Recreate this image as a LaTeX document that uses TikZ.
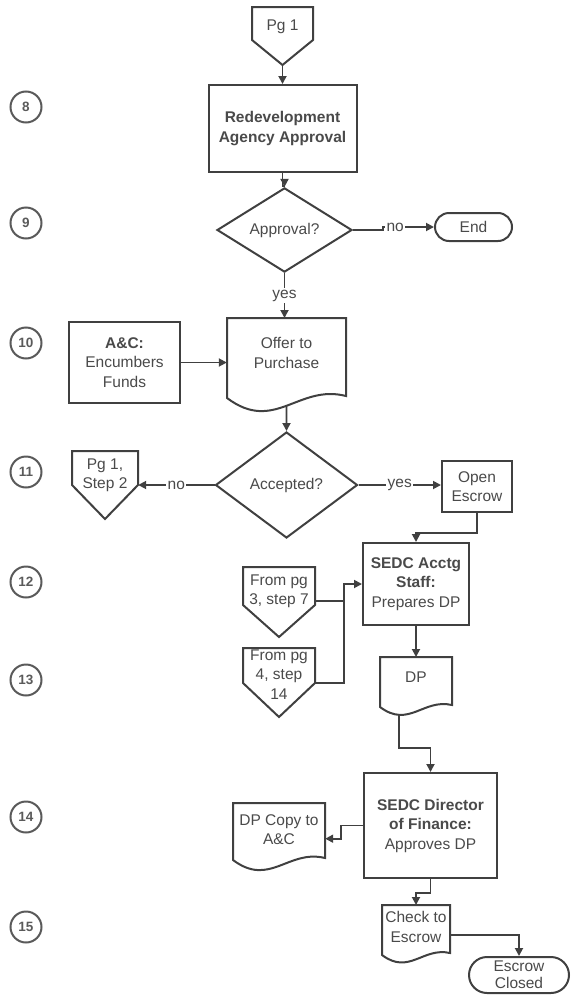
\documentclass[tikz,border=0pt]{standalone}
\usepackage{fontspec}
\setmainfont{Liberation Sans}
\usetikzlibrary{arrows.meta,shapes.geometric,calc}

\definecolor{inkline}{HTML}{404040}
\definecolor{inktext}{HTML}{4A4A4A}
\definecolor{stepgray}{HTML}{5A5A5A}

% document symbol: flat top, wavy bottom; #1 names a point on the wave
% #2 left, #3 right, #4 top, #5 bottom-left y, #6 position of the named point
\newcommand\docoutline[6]{%
  \draw[shapeline] (#2,#4) -- (#3,#4) -- ({#3},{#5-2})
    .. controls ({#2+0.6*(#3-#2)},{#5-0.12*(#3-#2)}) and ({#2+0.4*(#3-#2)},{#5+0.3*(#3-#2)})
    .. coordinate[pos=#6] (#1) (#2,#5) -- cycle;}

% off-page connector: #1 names the tip; #2 left, #3 right, #4 top, #5 side end, #6 tip y
\newcommand\offpage[6]{%
  \draw[shapeline] (#2,#4) -- (#3,#4) -- (#3,#5) -- ({(#2+#3)/2},#6) coordinate (#1)
    -- (#2,#5) -- cycle;}

\begin{document}
\begin{tikzpicture}[x=1pt,y=-1pt,
  font=\fontsize{15.5}{19.5}\selectfont,
  shapeline/.style={draw=inkline, line width=2pt, fill=white, line join=miter},
  shapebox/.style={inner sep=0pt, align=center, text=inktext},
  procbox/.style={shapebox, rectangle, draw=inkline, line width=2pt, fill=white},
  decision/.style={shapebox, diamond, draw=inkline, line width=2pt, fill=white},
  stepmark/.style={circle, draw=stepgray, line width=2pt, minimum size=31pt, inner sep=0pt,
    text=stepgray, font=\fontsize{13.5}{14}\selectfont\bfseries},
  conn/.style={draw=inkline, line width=1.8pt},
  arr/.style={conn, -{Triangle[length=8pt,width=8pt]}},
  lbl/.style={fill=white, inner sep=1.5pt, text=inktext}]

\path[use as bounding box] (0,0) rectangle (580,996);

% step numbers
\foreach \n/\yy in {8/107,9/223,10/343,11/472,12/582,13/680,14/817,15/927}
  \node[stepmark] (step\n) at (26,\yy) {\n};

% ---- shapes ----
\offpage{pg1tip}{252}{313}{7}{40}{65}
\node[shapebox, anchor=north, minimum width=61pt, minimum height=40pt] (pg1) at (282.5,7) {Pg 1};

\node[procbox, minimum width=148pt, minimum height=87pt, font=\fontsize{15.5}{19.5}\selectfont\bfseries]
  (rda) at (282.5,128.5) {Redevelopment\\Agency Approval};

\node[decision, minimum width=135pt, minimum height=64pt] (appr) at (284.5,230) {Approval?};
\node[procbox, rounded corners=14pt, minimum width=77pt, minimum height=28pt] (end) at (473.5,227) {End};

\docoutline{offerexit}{227}{346}{318}{398}{0.5}
\node[shapebox, anchor=north, minimum width=119pt, minimum height=70pt] (offer) at (286.5,318) {Offer to\\Purchase};

\node[procbox, minimum width=111pt, minimum height=81pt] (ac) at (124.5,362.5)
  {{\bfseries A\&C:}\\Encumbers\\Funds};

\node[decision, minimum width=142pt, minimum height=106pt] (acc) at (286.5,485) {Accepted?};

\offpage{ps2tip}{72}{138}{451}{485}{519}
\node[shapebox, anchor=north, minimum width=66pt, minimum height=48pt] (ps2) at (105,451) {Pg 1,\\Step 2};

\node[procbox, minimum width=70pt, minimum height=51pt] (oe) at (477,486.5) {Open\\Escrow};

\node[procbox, minimum width=106pt, minimum height=82pt] (acctg) at (416,584)
  {{\bfseries SEDC Acctg}\\{\bfseries Staff:}\\Prepares DP};

\offpage{fp3tip}{243}{315}{567}{605}{637}
\node[shapebox, anchor=north, minimum width=72pt, minimum height=48pt] (fp3) at (279,567) {From pg\\3, step 7};

\offpage{fp4tip}{243}{315}{648}{683}{717}
\node[shapebox, anchor=north, minimum width=72pt, minimum height=52pt] (fp4) at (279,648) {From pg\\4, step\\14};

\docoutline{dpexit}{380}{452}{657}{707}{0.75}
\node[shapebox, anchor=north, minimum width=72pt, minimum height=40pt] (dp) at (416,657) {DP};

\node[procbox, minimum width=133pt, minimum height=105pt] (dir) at (430.5,825.5)
  {{\bfseries SEDC Director}\\{\bfseries of Finance:}\\Approves DP};

\docoutline{dpcexit}{233}{325}{803}{860}{0.5}
\node[shapebox, anchor=north, minimum width=92pt, minimum height=53pt] (dpc) at (279,803) {DP Copy to\\A\&C};

\docoutline{chkexit}{382}{450}{905}{955}{0.5}
\node[shapebox, anchor=north, minimum width=68pt, minimum height=43pt] (chk) at (416,905) {Check to\\Escrow};

\node[procbox, rounded corners=18pt, minimum width=100pt, minimum height=36pt,
  font=\fontsize{15.5}{17}\selectfont] (ec) at (519,975) {Escrow\\Closed};

% ---- connectors ----
\draw[arr] (pg1tip) -- (rda.north);
\draw[arr] (rda.south) -- ++(0,13) -| (appr.north);
\draw[arr] (appr.east) -- ++(30,0) |- node[lbl, pos=0.62] {no} (end.west);
\draw[arr] (appr.south) -- node[lbl, pos=0.5] {yes} (appr.south |- offer.north);
\draw[arr] (ac.east) -- (ac.east -| offer.west);
\draw[arr] (offerexit) -- (acc.north);
\draw[arr] (acc.west) -- node[lbl] {no} (acc.west -| ps2.east);
\draw[arr] (acc.east) -- node[lbl] {yes} (acc.east -| oe.west);
\draw[arr] (oe.south) -- ++(0,20) -| (acctg.north);
\draw[arr] ($(fp3.east)+(0,10)$) -- ++(29,0) |- (acctg.west);
\draw[conn] ($(fp4.east)+(0,9)$) -| ($(fp3.east)+(29,10)$);
\draw[arr] (acctg.south) -- (dp.north);
\draw[arr] (dpexit) -- ++(0,33) -| (dir.north);
\draw[arr] (dir.west) -- ++(-22,0) |- ($(dpc.east)+(0,9)$);
\draw[arr] (dir.south) -- ++(0,14) -| (chk.north);
\draw[arr] ($(chk.east)+(0,8)$) -| (ec.north);

\end{tikzpicture}
\end{document}
